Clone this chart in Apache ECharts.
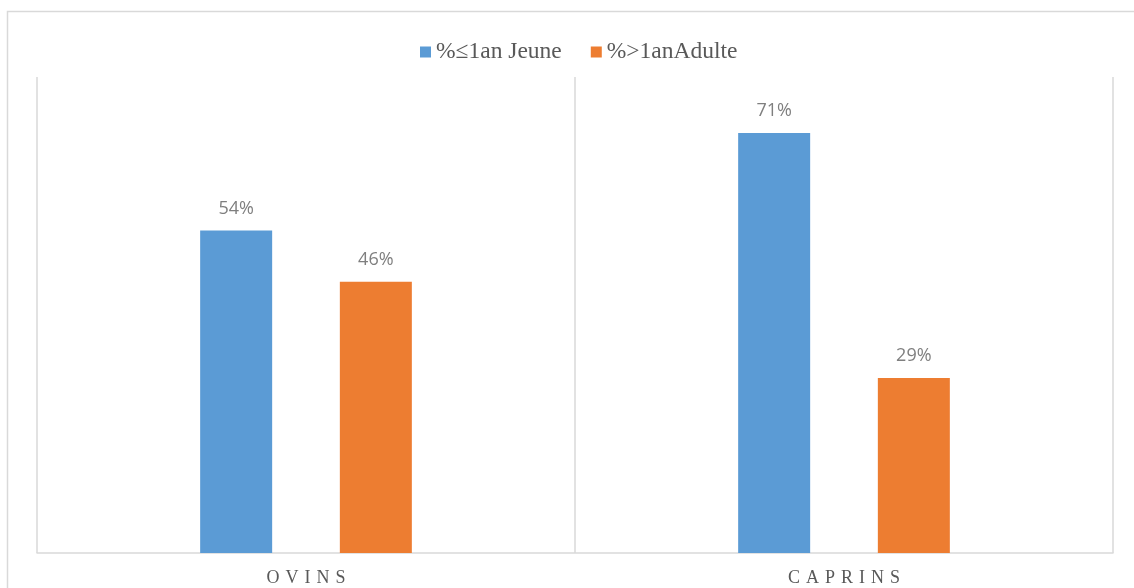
<!DOCTYPE html>
<html>
<head>
<meta charset="utf-8">
<script src="https://cdn.jsdelivr.net/npm/echarts@6/dist/echarts.min.js"></script>
<style>html,body{margin:0;padding:0;background:#fff;}#c{width:1134px;height:588px;}</style>
</head>
<body>
<div id="c"></div>
<script>
const categories = ['OVINS', 'CAPRINS'];
const seriesNames = ['%\u22641an Jeune', '%>1anAdulte'];
const jeune = [54.2, 70.6];
const adulte = [45.6, 29.4];

const chart = echarts.init(document.getElementById('c'));
const labelStyle = {
  show: true, position: 'top', distance: 13,
  fontFamily: 'Open Sans, Liberation Sans, sans-serif', fontSize: 18, color: '#7f7f7f',
  formatter: p => Math.round(p.value) + '%'
};
chart.setOption({
  animation: false,
  graphic: [{
    type: 'rect', silent: true,
    shape: { x: 7.5, y: 11.5, width: 1300, height: 700 },
    style: { fill: 'none', stroke: '#d9d9d9', lineWidth: 1.5 }
  }],
  legend: {
    top: 35, left: 415,
    itemWidth: 11, itemHeight: 11, itemGap: 29,
    icon: 'rect',
    textStyle: { fontFamily: 'Liberation Serif, serif', fontSize: 23.5, color: '#595959' },
    data: seriesNames
  },
  grid: { left: 37, right: 21, top: 77, bottom: 35 },
  xAxis: {
    type: 'category', data: categories,
    axisLine: { lineStyle: { color: '#d9d9d9', width: 1.5 } },
    axisTick: { show: false },
    splitLine: { show: true, lineStyle: { color: '#d9d9d9', width: 1.5 } },
    axisLabel: {
      margin: 16, fontFamily: 'Liberation Serif, serif', fontSize: 18, color: '#595959',
      formatter: v => v.split('').join('\u2004')
    }
  },
  yAxis: { type: 'value', min: 0, max: 80, show: false, splitLine: { show: false } },
  series: [
    { name: seriesNames[0], type: 'bar', data: jeune, barWidth: 72, barGap: '94%',
      itemStyle: { color: '#5b9bd5' }, label: labelStyle },
    { name: seriesNames[1], type: 'bar', data: adulte, barWidth: 72, barGap: '94%',
      itemStyle: { color: '#ed7d31' }, label: labelStyle }
  ]
});
</script>
</body>
</html>
